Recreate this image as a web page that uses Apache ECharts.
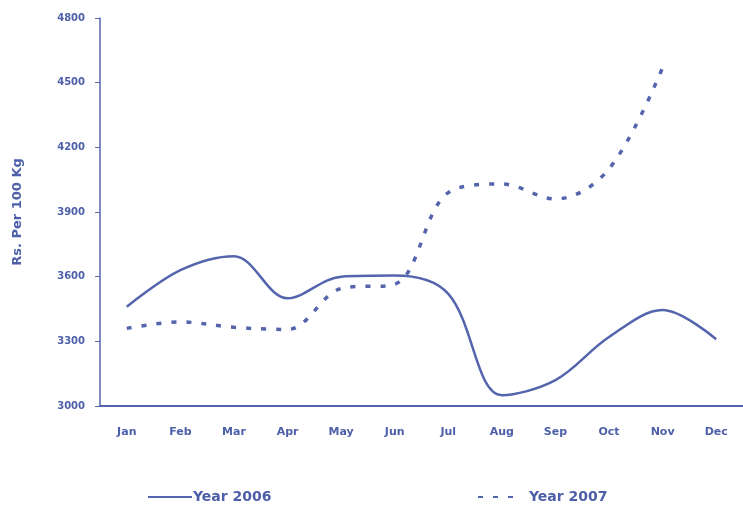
<!DOCTYPE html>
<html>
<head>
<meta charset="utf-8">
<script src="https://cdn.jsdelivr.net/npm/echarts@6/dist/echarts.min.js"></script>
<style>
  html, body { margin: 0; padding: 0; background: #fff; }
  #chart { width: 743px; height: 511px; }
</style>
</head>
<body>
<div id="chart"></div>
<script>
// Monthly price, Rs. per 100 Kg
const months = ['Jan', 'Feb', 'Mar', 'Apr', 'May', 'Jun', 'Jul', 'Aug', 'Sep', 'Oct', 'Nov', 'Dec'];
const year2006 = [3460, 3630, 3695, 3500, 3600, 3605, 3520, 3050, 3120, 3320, 3445, 3310];
const year2007 = [3360, 3390, 3365, 3355, 3545, 3565, 3990, 4030, 3960, 4100, 4570, null];
const yTicks = { min: 3000, max: 4800, step: 300 };

const ink = '#5565ad';
const labelFont = { color: '#4d5fa9', fontWeight: 'bold', fontFamily: 'DejaVu Sans, Verdana, sans-serif' };

const chart = echarts.init(document.getElementById('chart'), null, { renderer: 'canvas' });
chart.setOption({
  animation: false,
  grid: { left: 100, right: -2, top: 18, bottom: 105 },
  legend: [
    {
      left: 147, top: 490, padding: 0,
      itemWidth: 44, itemHeight: 14, itemGap: 0,
      itemStyle: { opacity: 0 },
      textStyle: Object.assign({ fontSize: 14, padding: [0, 0, 0, -4] }, labelFont),
      data: ['Year 2006']
    },
    {
      left: 477, top: 490, padding: 0,
      itemWidth: 40, itemHeight: 14,
      itemStyle: { opacity: 0 },
      textStyle: Object.assign({ fontSize: 14, padding: [0, 0, 0, 6] }, labelFont),
      data: ['Year 2007']
    }
  ],
  xAxis: {
    type: 'category',
    data: months,
    boundaryGap: true,
    axisLine: { lineStyle: { color: ink, width: 2 } },
    axisTick: { show: false },
    axisLabel: Object.assign({ fontSize: 11, margin: 21 }, labelFont)
  },
  yAxis: {
    type: 'value',
    min: yTicks.min, max: yTicks.max, interval: yTicks.step,
    name: 'Rs. Per 100 Kg',
    nameLocation: 'middle',
    nameGap: 76,
    nameTextStyle: Object.assign({ fontSize: 13 }, labelFont),
    axisLine: { show: true, lineStyle: { color: ink, width: 1.5 } },
    axisTick: { show: true, length: 5, lineStyle: { color: ink } },
    axisLabel: Object.assign({ fontSize: 10, margin: 15, formatter: v => String(v) }, labelFont),
    splitLine: { show: false }
  },
  series: [
    {
      name: 'Year 2006',
      type: 'line',
      data: year2006,
      smooth: 0.35,
      showSymbol: false,
      symbol: 'none',
      lineStyle: { color: ink, width: 2.5 },
      itemStyle: { color: ink }
    },
    {
      name: 'Year 2007',
      type: 'line',
      data: year2007,
      smooth: 0.35,
      showSymbol: false,
      symbol: 'none',
      lineStyle: { color: ink, width: 3.5, type: [5, 10] },
      itemStyle: { color: ink }
    }
  ]
});
</script>
</body>
</html>
